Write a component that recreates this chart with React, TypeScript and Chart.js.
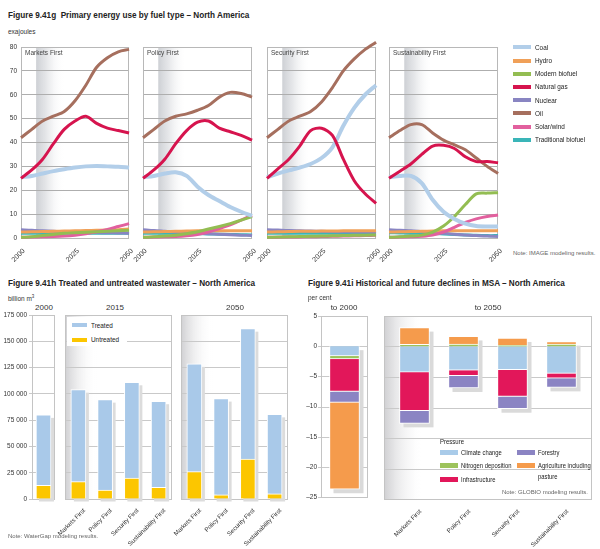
import React, { useEffect, useRef } from 'react';
import { Chart, registerables } from 'chart.js';
Chart.register(...registerables);

const FONT = "'Liberation Sans Narrow', 'Liberation Sans', Arial, sans-serif";

// ---------- Figure 9.41g : primary energy use (exajoules) ----------
const years = [2000, 2005, 2010, 2015, 2020, 2025, 2030, 2035, 2040, 2045, 2050];
const shadedYears = [2007, 2020];
const fuelNames = ['Coal', 'Hydro', 'Modern biofuel', 'Natural gas', 'Nuclear', 'Oil', 'Solar/wind', 'Traditional biofuel'];
const fuelColors = ['#b2cee9', '#f0a058', '#93bd52', '#d6144e', '#8985c2', '#a66f5e', '#e2609e', '#3ab5b8'];
const scenarioNames = ['Markets First', 'Policy First', 'Security First', 'Sustainability First'];

const marketsCoal = [25.5, 26, 27, 28, 28.8, 29.5, 30, 30.2, 30, 29.8, 29.5];
const marketsHydro = [2.5, 2.6, 2.7, 2.8, 2.9, 3.0, 3.1, 3.2, 3.3, 3.5, 3.8];
const marketsModernBiofuel = [0.3, 0.5, 1, 1.5, 2, 2.2, 2.4, 2.6, 2.8, 3, 3.2];
const marketsGas = [25, 28.5, 33, 39.5, 45.5, 49, 51, 48, 46, 45, 44];
const marketsNuclear = [3.5, 3.2, 3.0, 2.8, 2.6, 2.5, 2.4, 2.3, 2.2, 2.1, 2.0];
const marketsOil = [42, 45.5, 49, 51, 53, 57.5, 64, 71.5, 75.5, 78, 79];
const marketsSolarWind = [0.3, 0.4, 0.5, 0.6, 0.8, 1.2, 1.8, 2.6, 3.6, 4.8, 6];
const marketsTradBiofuel = [2, 2, 2, 2, 2, 2, 2, 2, 2, 2, 2];

const policyCoal = [25.5, 26, 27, 27.5, 26, 21.5, 18, 15.5, 13, 11, 9.3];
const policyHydro = [2.5, 2.6, 2.7, 2.8, 2.9, 3, 3, 3, 3, 3, 3];
const policyModernBiofuel = [0.3, 0.5, 0.8, 1.2, 1.8, 2.6, 3.8, 4.8, 6, 7.5, 9];
const policyGas = [25, 28.5, 33, 39.5, 45, 48.5, 49, 46, 44.5, 43, 41];
const policyNuclear = [3.5, 3.1, 2.8, 2.5, 2.2, 2, 1.8, 1.6, 1.4, 1.2, 1];
const policyOil = [42, 45.5, 49, 51, 52, 53.5, 55.5, 59, 61, 60.5, 59];
const policySolarWind = [0.3, 0.4, 0.5, 0.6, 0.9, 1.5, 2.5, 4, 5.5, 7.5, 9.5];
const policyTradBiofuel = [2, 2, 2, 2, 1.9, 1.8, 1.7, 1.6, 1.5, 1.4, 1.3];

const securityCoal = [25.5, 27, 28.3, 29.5, 31, 33.5, 38, 47, 54.5, 60, 64];
const securityHydro = [2.5, 2.6, 2.7, 2.8, 2.8, 2.9, 2.9, 3, 3, 3, 3];
const securityModernBiofuel = [0.3, 0.4, 0.5, 0.6, 0.7, 0.8, 0.9, 1, 1.1, 1.2, 1.3];
const securityGas = [25, 29, 33, 38.5, 45, 46, 43, 33, 24, 18.5, 14.5];
const securityNuclear = [3.5, 3.3, 3.1, 3, 2.9, 2.8, 2.7, 2.6, 2.5, 2.5, 2.5];
const securityOil = [42, 45.5, 49, 51, 53, 57, 63, 70, 75, 79, 82];
const securitySolarWind = [0.3, 0.35, 0.4, 0.45, 0.5, 0.6, 0.7, 0.8, 0.9, 1, 1.1];
const securityTradBiofuel = [2, 2, 2, 2, 2, 2, 2, 2, 2, 2, 2];

const sustCoal = [25.5, 26, 26, 23, 16, 11, 8, 6, 5, 4.8, 4.8];
const sustHydro = [2.5, 2.6, 2.7, 2.8, 2.9, 3, 3, 3, 3, 3, 3];
const sustModernBiofuel = [0.3, 0.5, 0.8, 1.2, 2.5, 5, 9, 14, 18.5, 18.8, 19];
const sustGas = [25, 28, 31, 35, 38.5, 38.8, 37.5, 34, 32, 32, 31.5];
const sustNuclear = [3.5, 3.2, 3, 2.7, 2.4, 2, 1.6, 1.3, 1, 0.8, 0.6];
const sustOil = [42, 45, 47.5, 47.5, 44, 41, 39, 37, 33.5, 30, 27];
const sustSolarWind = [0.3, 0.4, 0.5, 0.7, 1.2, 2.5, 4.5, 6.5, 8, 9, 9.6];
const sustTradBiofuel = [2.2, 2.1, 2, 2, 1.9, 1.7, 1.5, 1.3, 1.1, 1, 1];

const energySeries = [
  [marketsCoal, marketsHydro, marketsModernBiofuel, marketsGas, marketsNuclear, marketsOil, marketsSolarWind, marketsTradBiofuel],
  [policyCoal, policyHydro, policyModernBiofuel, policyGas, policyNuclear, policyOil, policySolarWind, policyTradBiofuel],
  [securityCoal, securityHydro, securityModernBiofuel, securityGas, securityNuclear, securityOil, securitySolarWind, securityTradBiofuel],
  [sustCoal, sustHydro, sustModernBiofuel, sustGas, sustNuclear, sustOil, sustSolarWind, sustTradBiofuel],
];

// ---------- Figure 9.41h : wastewater (billion m3) ----------
const wasteScenarios = ['Markets First', 'Policy First', 'Security First', 'Sustainability First'];
const treated2000 = [67000];
const untreated2000 = [13000];
const treated2015 = [87500, 86000, 91000, 82000];
const untreated2015 = [16500, 8500, 20000, 11000];
const treated2050 = [102500, 91500, 124000, 75500];
const untreated2050 = [26000, 4000, 38000, 5000];
const treatedColor = '#a9c9e9';
const untreatedColor = '#fcc600';

// ---------- Figure 9.41i : MSA declines (per cent) ----------
const pressureNames = ['Climate change', 'Nitrogen deposition', 'Infrastructure', 'Forestry', 'Agriculture including pasture'];
const pressureColors = ['#a9cbe9', '#9dc35c', '#e2175a', '#8b84c3', '#f59b4c'];
const msaHistClimate = [-1.6];
const msaHistNitrogen = [-0.5];
const msaHistInfra = [-5.4];
const msaHistForestry = [-1.8];
const msaHistAgri = [-14.4];
const msaFutureClimate = [-4.2, -3.9, -3.8, -4.4];
const msaFutureNitrogen = [0.35, 0.4, 0.2, 0.4];
const msaFutureInfra = [-6.3, -0.9, -4.4, -0.8];
const msaFutureForestry = [-2.1, -2.0, -2.0, -1.5];
const msaFutureAgri = [2.75, 1.25, 1.2, 0.4];

// ---------- plugins ----------
const panelPlugin = {
  id: 'panel',
  beforeDraw(chart: any, _a: any, o: any) {
    const { ctx, chartArea: a } = chart;
    const px = o.padX || 0;
    const L = a.left - px, R = a.right + px;
    ctx.save();
    if (o.bandX) {
      const x0 = chart.scales.x.getPixelForValue(o.bandX[0]);
      const x1 = chart.scales.x.getPixelForValue(o.bandX[1]);
      const g = ctx.createLinearGradient(x0, 0, x1, 0);
      g.addColorStop(0, 'rgba(200,203,208,0.9)');
      g.addColorStop(0.35, 'rgba(214,216,220,0.65)');
      g.addColorStop(1, 'rgba(255,255,255,0)');
      ctx.fillStyle = g;
      ctx.fillRect(x0, a.top, x1 - x0, a.bottom - a.top);
    }
    if (o.fadeW) {
      const g = ctx.createLinearGradient(L, 0, L + o.fadeW, 0);
      g.addColorStop(0, 'rgba(205,205,208,0.95)');
      g.addColorStop(1, 'rgba(255,255,255,0)');
      ctx.fillStyle = g;
      ctx.fillRect(L, a.top, o.fadeW, a.bottom - a.top);
    }
    if (o.grid) {
      const ys = chart.scales.y;
      ctx.strokeStyle = o.grid;
      ctx.lineWidth = 1;
      ys.ticks.forEach((t: any) => {
        const y = Math.round(ys.getPixelForValue(t.value)) + 0.5;
        ctx.beginPath();
        ctx.moveTo(L - (o.tickOut || 0), y);
        ctx.lineTo(R, y);
        ctx.stroke();
      });
    }
    ctx.restore();
  },
  beforeDatasetsDraw(chart: any, _a: any, o: any) {
    if (!o.box) return;
    const { ctx, chartArea: a } = chart;
    const px = o.padX || 0;
    ctx.save();
    ctx.strokeStyle = o.box;
    ctx.lineWidth = 1;
    ctx.strokeRect(Math.round(a.left - px) + 0.5, Math.round(a.top) + 0.5, Math.round(a.right - a.left + 2 * px) - 1, Math.round(a.bottom - a.top));
    ctx.restore();
  },
};

const shadowPlugin = {
  id: 'barShadow',
  beforeDatasetsDraw(chart: any, _a: any, o: any) {
    if (!o || !o.dx) return;
    const { ctx } = chart;
    const n = chart.data.labels.length;
    ctx.save();
    ctx.fillStyle = o.color;
    for (let i = 0; i < n; i++) {
      let top = Infinity, bottom = -Infinity, x = 0, w = 0;
      chart.data.datasets.forEach((_ds: any, d: number) => {
        const el: any = chart.getDatasetMeta(d).data[i];
        if (!el) return;
        top = Math.min(top, el.y, el.base);
        bottom = Math.max(bottom, el.y, el.base);
        x = el.x;
        w = el.width;
      });
      if (isFinite(top)) ctx.fillRect(x - w / 2 + o.dx, top + o.dy, w, bottom - top);
    }
    ctx.restore();
  },
};

const tickFont = { family: FONT, size: 6.5 };
const xFont = { family: FONT, size: 7 };
const barLabelFont = { family: FONT, size: 6.2 };

function energyConfig(idx: number): any {
  const series = energySeries[idx];
  const showY = idx === 0;
  return {
    type: 'line',
    data: {
      datasets: fuelNames.map((name, k) => ({
        label: name,
        data: years.map((yr, j) => ({ x: yr, y: series[k][j] })),
        borderColor: fuelColors[k],
        backgroundColor: fuelColors[k],
        borderWidth: k === 0 ? 4 : 3,
        pointRadius: 0,
        tension: 0.3,
        clip: false,
        fill: false,
        order: [3, 6, 4, 1, 7, 2, 5, 8][k],
      })),
    },
    options: {
      animation: false,
      responsive: false,
      events: [],
      layout: { padding: { top: 9, right: 6, left: 0, bottom: 0 } },
      plugins: {
        legend: { display: false },
        tooltip: { enabled: false },
        panel: { bandX: shadedYears, box: '#b8b8b8' },
      },
      scales: {
        x: {
          type: 'linear', min: 2000, max: 2050,
          ticks: { stepSize: 25, callback: (v: any) => String(v), minRotation: 45, maxRotation: 45, font: xFont, color: '#333', padding: 1, labelOffset: 3 },
          grid: { display: false },
          border: { display: false },
          afterFit: (s: any) => { s.height = 30; },
        },
        y: {
          min: 0, max: 80,
          ticks: { stepSize: 10, display: showY, font: tickFont, color: '#333', padding: 4 },
          grid: { color: '#aeaeae', drawTicks: false },
          border: { display: false },
          afterFit: (s: any) => { s.width = showY ? 21 : 16; },
        },
      },
    },
    plugins: [panelPlugin],
  };
}

function wasteConfig(labels: string[], treated: number[], untreated: number[], first: boolean): any {
  return {
    type: 'bar',
    data: {
      labels,
      datasets: [
        { label: 'Untreated', data: untreated, backgroundColor: untreatedColor, borderColor: '#ffffff', borderWidth: 1, barThickness: 15 },
        { label: 'Treated', data: treated, backgroundColor: treatedColor, borderColor: '#ffffff', borderWidth: 1, barThickness: 15 },
      ],
    },
    options: {
      animation: false,
      responsive: false,
      events: [],
      layout: { padding: { top: 10, right: first ? 3 : 6, left: 0, bottom: first ? 6 : 0 } },
      plugins: {
        legend: { display: false },
        tooltip: { enabled: false },
        panel: { box: '#c4c4c4', fadeW: first ? 0 : 32 },
        barShadow: { dx: 3, dy: 3, color: '#dcdcdc' },
      },
      scales: {
        x: {
          stacked: true,
          display: !first,
          ticks: { minRotation: 45, maxRotation: 45, font: barLabelFont, color: '#333', padding: 0, autoSkip: false, labelOffset: 6 },
          grid: { display: false },
          border: { display: false },
          afterFit: (s: any) => { s.height = first ? 0 : 50; },
        },
        y: {
          stacked: true, min: 0, max: 175000,
          ticks: {
            stepSize: 25000, display: first, font: tickFont, color: '#333', padding: 2,
            callback: (v: any) => (v === 0 ? '0' : `${v / 1000} 000`),
          },
          grid: { color: '#c9c9c9', drawTicks: first, tickLength: 3 },
          border: { display: false },
          afterFit: (s: any) => { s.width = first ? 32 : 25; },
        },
      },
    },
    plugins: [panelPlugin, shadowPlugin],
  };
}

function msaConfig(labels: string[], sets: number[][], first: boolean): any {
  return {
    type: 'bar',
    data: {
      labels,
      datasets: pressureNames.map((name, k) => ({
        label: name,
        data: sets[k],
        backgroundColor: pressureColors[k],
        borderColor: '#ffffff',
        borderWidth: 1,
        barThickness: 30,
      })),
    },
    options: {
      animation: false,
      responsive: false,
      events: [],
      layout: { padding: { top: 10, right: first ? 6 : 10, left: 0, bottom: first ? 6 : 0 } },
      plugins: {
        legend: { display: false },
        tooltip: { enabled: false },
        panel: first ? { box: '#c4c4c4', grid: '#c9c9c9', tickOut: 3 } : { box: '#c4c4c4', grid: '#c9c9c9', padX: 6, fadeW: 40 },
        barShadow: { dx: 4, dy: 4, color: '#dadada' },
      },
      scales: {
        x: {
          stacked: true,
          display: !first,
          ticks: { minRotation: 45, maxRotation: 45, font: barLabelFont, color: '#333', padding: 1, autoSkip: false, labelOffset: 6 },
          grid: { display: false },
          border: { display: false },
          afterFit: (s: any) => { s.height = first ? 0 : 50; },
        },
        y: {
          stacked: true, min: -25, max: 5,
          ticks: {
            stepSize: 5, display: first, font: tickFont, color: '#333', padding: 4,
            callback: (v: any) => (v < 0 ? `\u2013${Math.abs(v)}` : String(v)),
          },
          grid: { display: false, drawTicks: false },
          border: { display: false },
          afterFit: (s: any) => { s.width = first ? 21 : 40; },
        },
      },
    },
    plugins: [panelPlugin, shadowPlugin],
  };
}

function ChartCanvas({ make, left, top, width, height }: { make: () => any; left: number; top: number; width: number; height: number }) {
  const ref = useRef<HTMLCanvasElement>(null);
  useEffect(() => {
    const chart = new Chart(ref.current as HTMLCanvasElement, make());
    return () => chart.destroy();
  }, []);
  return <canvas ref={ref} width={width} height={height} style={{ position: 'absolute', left, top, width, height }} />;
}

function T({ x, y, size = 7, bold = false, color = '#222', anchor = 'left', sx = 1, children }: any) {
  const style: React.CSSProperties = {
    position: 'absolute',
    top: y - size * 0.6,
    fontSize: size,
    lineHeight: `${size * 1.2}px`,
    fontFamily: FONT,
    fontWeight: bold ? 700 : 400,
    color,
    whiteSpace: 'nowrap',
    left: x,
  };
  if (anchor === 'left') {
    style.transform = `scaleX(${sx})`;
    style.transformOrigin = 'left center';
  } else if (anchor === 'center') {
    style.transform = `translateX(-50%) scaleX(${sx})`;
    style.transformOrigin = 'center';
  } else {
    style.transform = `translateX(-100%) scaleX(${sx})`;
    style.transformOrigin = 'right center';
  }
  return <div style={style}>{children}</div>;
}

function Swatch({ x, y, w, h, color }: any) {
  return <div style={{ position: 'absolute', left: x, top: y - h / 2, width: w, height: h, background: color }} />;
}

const energyPanels = [
  { left: 0, yw: 21, area: [21, 130] },
  { left: 127, yw: 16, area: [143, 253] },
  { left: 251, yw: 16, area: [267, 377] },
  { left: 373, yw: 16, area: [389, 499] },
];

export default function App() {
  return (
    <div style={{ position: 'absolute', left: 0, top: 0, width: 600, height: 549, background: '#fff', overflow: 'hidden' }}>
      {/* Figure 9.41g */}
      <T x={8} y={15} size={9.5} bold sx={0.86}>Figure 9.41g&nbsp; Primary energy use by fuel type – North America</T>
      <T x={8} y={32} size={6.5} color="#333">exajoules</T>
      {energyPanels.map((p, i) => (
        <ChartCanvas key={i} make={() => energyConfig(i)} left={p.left} top={38} width={p.yw + (p.area[1] - p.area[0]) + 6} height={230} />
      ))}
      {energyPanels.map((p, i) => (
        <T key={'l' + i} x={p.area[0] + 4} y={53} size={6.5} color="#444">{scenarioNames[i]}</T>
      ))}
      {fuelNames.map((f, i) => (
        <React.Fragment key={f}>
          <Swatch x={513} y={47.3 + i * 13.2} w={18} h={4} color={fuelColors[i]} />
          <T x={535} y={47.3 + i * 13.2} size={7.5} color="#222" sx={0.85}>{f}</T>
        </React.Fragment>
      ))}
      <T x={513} y={254} size={6} color="#666">Note: IMAGE modeling results.</T>

      {/* Figure 9.41h */}
      <T x={8} y={283} size={9.5} bold sx={0.86}>Figure 9.41h Treated and untreated wastewater – North America</T>
      <T x={8} y={297} size={6.5} color="#333">billion m<sup style={{ fontSize: 4.5 }}>3</sup></T>
      <T x={44} y={308} size={8} color="#333" anchor="center">2000</T>
      <T x={115} y={308} size={8} color="#333" anchor="center">2015</T>
      <T x={235} y={308} size={8} color="#333" anchor="center">2050</T>
      <ChartCanvas make={() => wasteConfig([''], treated2000, untreated2000, true)} left={0} top={305} width={58} height={200} />
      <ChartCanvas make={() => wasteConfig(wasteScenarios, treated2015, untreated2015, false)} left={40} top={305} width={138} height={244} />
      <ChartCanvas make={() => wasteConfig(wasteScenarios, treated2050, untreated2050, false)} left={156} top={305} width={138} height={244} />
      <div style={{ position: 'absolute', left: 67, top: 317, width: 60, height: 29, background: '#fff' }} />
      <Swatch x={72} y={325} w={15} h={4} color={treatedColor} />
      <T x={91} y={325} size={7.5} sx={0.85}>Treated</T>
      <Swatch x={72} y={339.5} w={15} h={4} color={untreatedColor} />
      <T x={91} y={339.5} size={7.5} sx={0.85}>Untreated</T>
      <T x={8} y={537} size={6} color="#666">Note: WaterGap modeling results.</T>

      {/* Figure 9.41i */}
      <T x={308} y={283} size={9.5} bold sx={0.86}>Figure 9.41i Historical and future declines in MSA – North America</T>
      <T x={308} y={298} size={6.5} color="#333">per cent</T>
      <T x={344} y={308} size={8} color="#333" anchor="center">to 2000</T>
      <T x={488} y={308} size={8} color="#333" anchor="center">to 2050</T>
      <ChartCanvas
        make={() => msaConfig([''], [msaHistClimate, msaHistNitrogen, msaHistInfra, msaHistForestry, msaHistAgri], true)}
        left={300} top={306} width={74} height={199}
      />
      <ChartCanvas
        make={() => msaConfig(wasteScenarios, [msaFutureClimate, msaFutureNitrogen, msaFutureInfra, msaFutureForestry, msaFutureAgri], false)}
        left={350} top={306} width={246} height={243}
      />
      <T x={440} y={441.7} size={7.5} sx={0.8}>Pressure</T>
      <Swatch x={440} y={452.7} w={18} h={5} color={pressureColors[0]} />
      <T x={461} y={452.7} size={7.5} sx={0.78}>Climate change</T>
      <Swatch x={440} y={465.7} w={18} h={5} color={pressureColors[1]} />
      <T x={461} y={465.7} size={7.5} sx={0.78}>Nitrogen deposition</T>
      <Swatch x={440} y={479} w={18} h={5} color={pressureColors[2]} />
      <T x={461} y={479} size={7.5} sx={0.78}>Infrastructure</T>
      <Swatch x={517} y={452.7} w={18} h={5} color={pressureColors[3]} />
      <T x={538} y={452.7} size={7.5} sx={0.78}>Forestry</T>
      <Swatch x={517} y={465.7} w={18} h={5} color={pressureColors[4]} />
      <T x={538} y={465.7} size={7.5} sx={0.78}>Agriculture including</T>
      <T x={538} y={476} size={7.5} sx={0.78}>pasture</T>
      <T x={588} y={493} size={6} color="#666" anchor="right">Note: GLOBIO modeling results.</T>
    </div>
  );
}
